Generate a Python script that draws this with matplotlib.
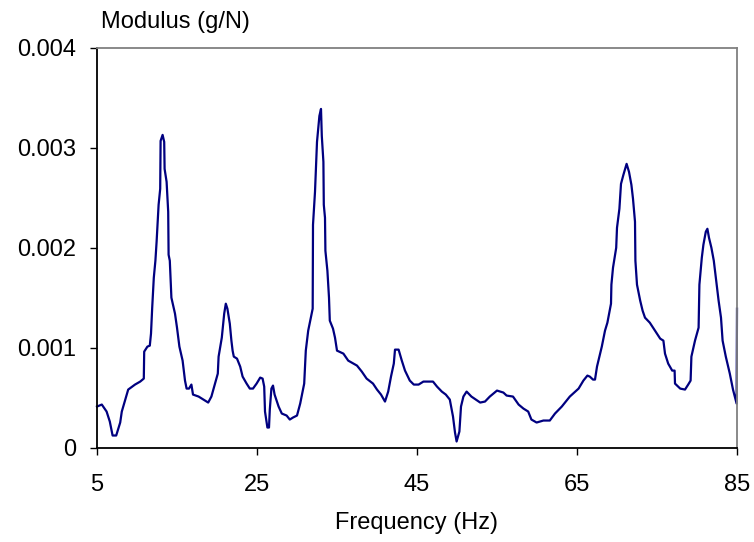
import matplotlib
matplotlib.use("Agg")
import matplotlib.pyplot as plt

plt.rcParams['font.family'] = ['Liberation Sans', 'DejaVu Sans']

# frequency response
freq = [5.0, 5.6, 6.2, 6.6, 6.95, 7.4, 7.9, 8.1, 8.9, 9.75, 10.4, 10.85, 10.9, 11.3,
        11.6, 11.75, 11.9, 12.1, 12.3, 12.45, 12.7, 12.9, 12.95, 13.2, 13.4, 13.45,
        13.7, 13.9, 13.95, 14.1, 14.3, 14.75, 15.0, 15.3, 15.7, 16.0, 16.2, 16.5,
        16.8, 17.0, 17.7, 18.3, 18.9, 19.3, 19.75, 20.1, 20.2, 20.6, 20.9, 21.1,
        21.3, 21.6, 21.8, 21.95, 22.1, 22.5, 22.9, 23.2, 23.7, 24.1, 24.5, 24.95,
        25.4, 25.7, 25.9, 26.0, 26.3, 26.5, 26.6, 26.8, 27.0, 27.2, 27.7, 28.1,
        28.7, 29.1, 29.5, 30.0, 30.4, 30.9, 31.1, 31.4, 31.96, 32.0, 32.25, 32.5,
        32.8, 33.0, 33.1, 33.3, 33.35, 33.5, 33.55, 33.8, 34.0, 34.1, 34.5, 34.75,
        35.0, 35.8, 36.4, 37.5, 38.1, 38.7, 39.5, 40.0, 40.5, 41.0, 41.4, 41.75,
        42.1, 42.25, 42.7, 43.1, 43.5, 44.1, 44.6, 45.2, 45.8, 47.0, 47.5, 48.1,
        48.6, 49.1, 49.5, 49.75, 49.95, 50.3, 50.5, 50.8, 51.2, 51.8, 52.9, 53.5,
        54.1, 55.0, 55.8, 56.2, 57.0, 57.7, 58.3, 58.9, 59.3, 59.95, 60.8, 61.6,
        62.25, 63.1, 64.1, 65.2, 65.8, 66.3, 66.6, 67.0, 67.25, 67.5, 68.1, 68.5,
        68.8, 69.25, 69.3, 69.5, 69.9, 70.0, 70.3, 70.5, 70.8, 71.2, 71.5, 71.8,
        72.0, 72.25, 72.3, 72.5, 72.9, 73.2, 73.5, 74.1, 74.75, 75.4, 75.8, 76.0,
        76.4, 76.9, 77.2, 77.25, 77.9, 78.5, 78.9, 79.2, 79.3, 79.75, 80.2, 80.3,
        80.6, 80.8, 81.1, 81.3, 81.5, 81.8, 82.1, 82.4, 82.7, 83.0, 83.2, 83.6,
        84.1, 84.5, 84.95, 85.0]
modulus = [0.00041, 0.00043, 0.00036, 0.00026, 0.00012, 0.00012, 0.00025, 0.00036,
           0.00058, 0.00063, 0.00066, 0.00069, 0.00096, 0.00101, 0.00102, 0.00114,
           0.0014, 0.0017, 0.00187, 0.00206, 0.00243, 0.00259, 0.00307, 0.00313,
           0.00306, 0.00279, 0.00266, 0.00236, 0.00193, 0.00187, 0.0015, 0.00134,
           0.0012, 0.00101, 0.00087, 0.00067, 0.00059, 0.00059, 0.00063, 0.00053,
           0.00051, 0.00048, 0.00045, 0.00051, 0.00064, 0.00074, 0.00091, 0.0011,
           0.00134, 0.00144, 0.00139, 0.00124, 0.00107, 0.00097, 0.00091, 0.00089,
           0.00081, 0.00071, 0.00064, 0.00059, 0.00059, 0.00064, 0.0007, 0.00069,
           0.00061, 0.00036, 0.0002, 0.0002, 0.00038, 0.00059, 0.00062, 0.00053,
           0.00041, 0.00034, 0.00032, 0.00028, 0.0003, 0.00032, 0.00044, 0.00064,
           0.00097, 0.00117, 0.00139, 0.00223, 0.00256, 0.00306, 0.00332, 0.00339,
           0.00312, 0.00286, 0.00243, 0.0023, 0.00197, 0.00177, 0.0015, 0.00127,
           0.00119, 0.0011, 0.00097, 0.00094, 0.00087, 0.00082, 0.00076, 0.00069,
           0.00064, 0.00058, 0.00053, 0.00046, 0.00056, 0.00071, 0.00084, 0.00098,
           0.00098, 0.00087, 0.00077, 0.00067, 0.00063, 0.00063, 0.00066, 0.00066,
           0.00061, 0.00056, 0.00053, 0.00048, 0.00031, 0.00015, 0.00006, 0.00016,
           0.00041, 0.00051, 0.00056, 0.00051, 0.00045, 0.00046, 0.00051, 0.00057,
           0.00055, 0.00052, 0.00051, 0.00043, 0.00039, 0.00036, 0.00028, 0.00025,
           0.00027, 0.00027, 0.00034, 0.00041, 0.00051, 0.00059, 0.00067, 0.00072,
           0.00071, 0.00068, 0.00068, 0.00081, 0.00101, 0.00117, 0.00125, 0.00144,
           0.00163, 0.0018, 0.002, 0.0022, 0.00239, 0.00264, 0.00273, 0.00284,
           0.00276, 0.00263, 0.00249, 0.00226, 0.00187, 0.00163, 0.00147, 0.00137,
           0.0013, 0.00125, 0.00117, 0.00109, 0.00107, 0.00094, 0.00084, 0.00077,
           0.00077, 0.00064, 0.00059, 0.00058, 0.00063, 0.00067, 0.00091, 0.00107,
           0.0012, 0.00163, 0.0019, 0.00203, 0.00216, 0.00219, 0.0021, 0.002,
           0.00187, 0.00167, 0.00147, 0.0013, 0.00107, 0.00091, 0.00074, 0.00058,
           0.00044, 0.00139]

xticks = [5, 25, 45, 65, 85]
yticks = [0, 0.001, 0.002, 0.003, 0.004]
ytick_labels = ['0', '0.001', '0.002', '0.003', '0.004']

fig = plt.figure(figsize=(7.54, 5.42), dpi=100)
ax = fig.add_axes([97 / 754, 1 - 447.5 / 542, 640 / 754, 399.5 / 542])

ax.plot(freq, modulus, color='#000080', lw=1.6, clip_on=False)

ax.set_xlim(5, 85)
ax.set_ylim(0, 0.004)
ax.set_xticks(xticks)
ax.set_xticklabels([str(t) for t in xticks])
ax.set_yticks(yticks)
ax.set_yticklabels(ytick_labels)
ax.tick_params(axis='both', direction='out', length=5, width=1.0,
               labelsize=17, color='black')
ax.tick_params(axis='x', pad=14)
ax.tick_params(axis='y', pad=10)

for s in ['left', 'bottom']:
    ax.spines[s].set_color('black')
    ax.spines[s].set_linewidth(1.3)
for s in ['top', 'right']:
    ax.spines[s].set_color('#808080')
    ax.spines[s].set_linewidth(1.3)

fig.text(101 / 754, 1 - 22 / 542, 'Modulus (g/N)', fontsize=17,
         ha='left', va='center')
fig.text(417 / 754, 1 - 523 / 542, 'Frequency (Hz)', fontsize=17,
         ha='center', va='center')

fig.savefig('out.png', dpi=100)
